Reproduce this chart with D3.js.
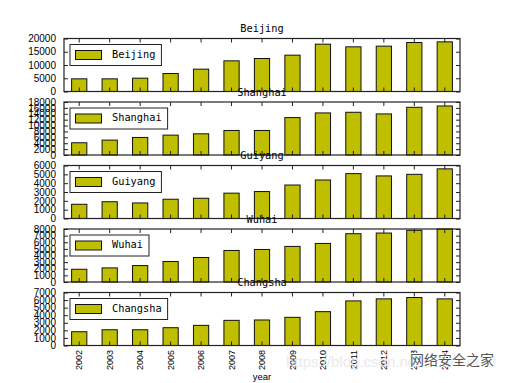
<!DOCTYPE html>
<html><head><meta charset="utf-8">
<script src="https://cdn.jsdelivr.net/npm/d3@7"></script>
<style>body{margin:0;background:#fff}svg{display:block}</style>
</head><body>
<svg id="c" width="511" height="383"></svg>
<script>
const years = ["2002","2003","2004","2005","2006","2007","2008","2009","2010","2011","2012","2013","2014"];
const cities = ["Beijing","Shanghai","Guiyang","Wuhai","Changsha"];
const beijing  = [4780,4780,5030,6790,8430,11570,12450,13710,17860,16860,17110,18490,18740];
const shanghai = [4160,5060,5960,6750,7200,8330,8330,12710,14290,14510,13950,16200,16650];
const guiyang  = [1610,1900,1760,2180,2290,2870,3050,3790,4360,5080,4820,5000,5620];
const wuhai    = [1920,2130,2480,3090,3700,4760,4910,5370,5820,7290,7390,7800,8000];
const changsha = [1820,2080,2080,2350,2660,3320,3370,3720,4470,5890,6160,6340,6160];
const seriesValues = [beijing, shanghai, guiyang, wuhai, changsha];
const yMax  = [20000,18000,6000,8000,7000];
const yStep = [5000,2000,1000,1000,1000];
const xLabel = "year";

const svg = d3.select("#c");
const L = 64, R = 460, H = 53;
const tops = cities.map((_, i) => 38.5 + i * 63.5);
const x = d3.scaleBand().domain(years).range([L, R]).paddingInner(0.5).paddingOuter(0.25);
const ink = "#222";

cities.forEach((city, i) => {
  const top = tops[i], bot = top + H;
  const y = d3.scaleLinear().domain([0, yMax[i]]).range([bot, top]);
  const ticks = d3.range(0, yMax[i] + 1, yStep[i]);
  const g = svg.append("g");
  const vals = seriesValues[i];

  // bars
  g.selectAll("rect.bar").data(years).join("rect")
    .attr("x", d => x(d)).attr("width", x.bandwidth())
    .attr("y", (d, j) => y(vals[j])).attr("height", (d, j) => bot - y(vals[j]))
    .attr("fill", "#bfbf00").attr("stroke", "#111").attr("stroke-width", 1);

  // ticks inward on all sides
  const xt = years.map(d => x(d) + x.bandwidth() / 2);
  g.selectAll("line.tb").data(xt).join("line")
    .attr("x1", d => d).attr("x2", d => d).attr("y1", bot).attr("y2", bot - 4)
    .attr("stroke", ink).attr("stroke-width", 1);
  g.selectAll("line.tt").data(xt).join("line").attr("class","tt")
    .attr("x1", d => d).attr("x2", d => d).attr("y1", top).attr("y2", top + 4)
    .attr("stroke", ink).attr("stroke-width", 1);
  // y axis via d3 axis with inward ticks
  const ay = d3.axisLeft(y).tickValues(ticks).tickFormat(d3.format("d")).tickSizeInner(-4).tickSizeOuter(0).tickPadding(8);
  const ga = g.append("g").attr("transform", `translate(${L},0)`).call(ay);
  ga.select(".domain").remove();
  ga.selectAll("line").attr("stroke", ink);
  ga.selectAll("text").attr("font-family", "Liberation Sans, Arial, sans-serif").attr("font-size", 10).attr("fill", "#000");
  const ar = d3.axisRight(y).tickValues(ticks).tickFormat("").tickSizeInner(-4).tickSizeOuter(0);
  const gr = g.append("g").attr("transform", `translate(${R},0)`).call(ar);
  gr.select(".domain").remove();
  gr.selectAll("line").attr("stroke", ink);

  // frame
  g.append("rect").attr("x", L).attr("y", top).attr("width", R - L).attr("height", H)
    .attr("fill", "none").attr("stroke", ink).attr("stroke-width", 1.2);

  // title
  g.append("text").attr("x", (L + R) / 2).attr("y", top - 6.5).attr("text-anchor", "middle")
    .attr("font-family", "DejaVu Sans Mono, monospace").attr("font-size", 10.3).attr("fill", "#000").text(city);

  // legend
  const lg = g.append("g");
  const box = lg.append("rect").attr("x", 70).attr("y", top + 6).attr("height", 21)
    .attr("fill", "#fff").attr("stroke", ink).attr("stroke-width", 1);
  lg.append("rect").attr("x", 75.5).attr("y", top + 12).attr("width", 26).attr("height", 9)
    .attr("fill", "#bfbf00").attr("stroke", "#111").attr("stroke-width", 1);
  const lt = lg.append("text").attr("x", 112).attr("y", top + 19)
    .attr("font-family", "DejaVu Sans Mono, monospace").attr("font-size", 10.3).attr("fill", "#000").text(city);
  const tw = lt.node().getComputedTextLength();
  box.attr("width", 112 - 70 + tw + 6);

  if (i === cities.length - 1) {
    g.selectAll("text.xl").data(years).join("text")
      .attr("transform", d => `translate(${x(d) + x.bandwidth() / 2},${bot + 4.5}) rotate(-90)`)
      .attr("text-anchor", "end").attr("dy", "0.35em")
      .attr("font-family", "Liberation Sans, Arial, sans-serif").attr("font-size", 9).attr("fill", "#000")
      .text(d => d);
    svg.append("text").attr("x", (L + R) / 2).attr("y", 380).attr("text-anchor", "middle")
      .attr("font-family", "Liberation Sans, Arial, sans-serif").attr("font-size", 9.5).attr("fill", "#000").text(xLabel);
  }
});

// watermark
svg.append("text").attr("x", 286).attr("y", 367).attr("font-family", "Liberation Sans, Arial, sans-serif")
  .attr("font-size", 15).attr("fill", "#e6e6e6").attr("opacity", 0.8).text("https://blog.csdn.net/Eastmount");
svg.append("text").attr("x", 410).attr("y", 365).attr("font-family", "Noto Sans CJK SC, sans-serif")
  .attr("font-size", 14).attr("fill", "#555").attr("stroke", "#fff").attr("stroke-width", 2)
  .attr("paint-order", "stroke").text("网络安全之家");
</script>
</body></html>
